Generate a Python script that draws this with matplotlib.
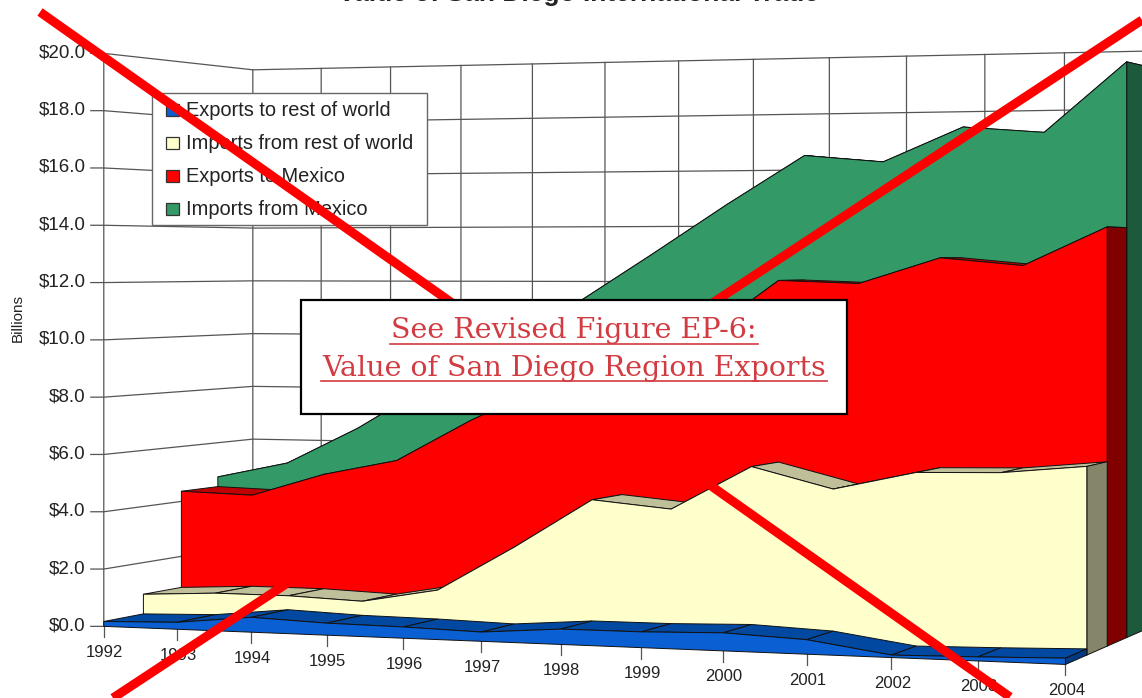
import numpy as np
import matplotlib
matplotlib.use("Agg")
import matplotlib.pyplot as plt
from matplotlib.patches import Polygon, Rectangle

plt.rcParams["font.family"] = ["Liberation Sans", "DejaVu Sans"]

# ==========================================
# DATA
# ==========================================
years = [1992, 1993, 1994, 1995, 1996, 1997, 1998, 1999, 2000, 2001, 2002, 2003, 2004]
exports_row = [0.17, 0.24, 0.51, 0.41, 0.38, 0.31, 0.51, 0.52, 0.59, 0.47, 0.08, 0.13, 0.20]
imports_row = [0.87, 1.00, 1.00, 0.90, 1.38, 2.94, 4.63, 4.38, 5.87, 5.18, 5.79, 5.84, 6.10]
exports_mex = [4.37, 4.29, 5.10, 5.65, 7.12, 8.38, 9.31, 10.09, 12.08, 11.98, 12.85, 12.59, 13.87]
imports_mex = [4.73, 5.30, 6.63, 8.23, 9.70, 11.22, 12.96, 14.74, 16.43, 16.18, 17.35, 17.13, 19.48]

series_names = ["Exports to rest of world", "Imports from rest of world",
                "Exports to Mexico", "Imports from Mexico"]
value_ticks = [0, 2, 4, 6, 8, 10, 12, 14, 16, 18, 20]

# front, top surface, right end
colors = [("#0A5FD2", "#0048A0", "#003A80"),
          ("#FFFFCC", "#BFBF99", "#85856A"),
          ("#FF0000", "#BF0000", "#800000"),
          ("#339966", "#1F5F40", "#1D5A3C")]

# ==========================================
# PERSPECTIVE (year, value, depth -> pixels)
# ==========================================
corners = [
    (1992, 0, 0, 103, 626), (1992, 20, 0, 103, 52),
    (1992, 0, 4, 252, 598), (1992, 20, 4, 252, 71),
    (2004, 0, 0, 1065, 665), (2004, 20, 0, 1065, 33),
    (2004, 0, 4, 1145, 629), (2004, 20, 4, 1145, 50),
    (1992, 0, 2, 183, 611), (1992, 20, 2, 183, 62),
    (2004, 0, 2, 1108, 646), (2004, 20, 2, 1108, 41),
]
A, b = [], []
for yr, v, d, u, w in corners:
    X = [yr - 1992, v, d, 1]
    A.append(X + [0, 0, 0, 0] + [-u * c for c in X[:3]])
    b.append(u)
    A.append([0, 0, 0, 0] + X + [-w * c for c in X[:3]])
    b.append(w)
p = np.linalg.lstsq(np.array(A, float), np.array(b, float), rcond=None)[0]
P = np.append(p, 1).reshape(3, 4)


def project(yr, v, d):
    h = P @ np.array([yr - 1992, v, d, 1.0])
    return h[0] / h[2], h[1] / h[2]


# ==========================================
# FIGURE
# ==========================================
fig = plt.figure(figsize=(11.42, 6.98), dpi=100)
ax = fig.add_axes([0, 0, 1, 1])
ax.set_xlim(0, 1142)
ax.set_ylim(698, 0)
ax.axis("off")

grid = dict(color="#555555", lw=0.9, zorder=1)

# walls
for v in value_ticks:
    a = project(1992, v, 0)
    b_ = project(1992, v, 4)
    c = project(2004, v, 4)
    ax.plot([a[0] - 13, a[0], b_[0], c[0]], [a[1], a[1], b_[1], c[1]], **grid)
    ax.text(a[0] - 18, a[1] - 0.5, f"${v:.1f}", ha="right", va="center", fontsize=13.5, color="#222222")
for yr in years:
    t = project(yr, 0, 4)
    u = project(yr, 20, 4)
    ax.plot([t[0], u[0]], [t[1], u[1]], **grid)
    f = project(yr, 0, 0)
    ax.plot([f[0], f[0]], [f[1], f[1] + 11], **grid)
    ax.text(f[0] + 1, f[1] + 26, str(yr), ha="center", va="center", fontsize=12, color="#222222")
t = project(1992, 0, 0)
u = project(1992, 20, 0)
ax.plot([t[0], u[0]], [t[1], u[1]], **grid)

# areas, back series first
all_series = [exports_row, imports_row, exports_mex, imports_mex]
z = 2
for d in [3, 2, 1, 0]:
    vals = all_series[d]
    front, top, end = colors[d]
    for i in range(len(years) - 1):
        quad = [project(years[i], vals[i], d), project(years[i + 1], vals[i + 1], d),
                project(years[i + 1], vals[i + 1], d + 1), project(years[i], vals[i], d + 1)]
        ax.add_patch(Polygon(quad, fc=top, ec="#111111", lw=0.7, zorder=z))
    cap = [project(years[-1], 0, d), project(years[-1], vals[-1], d),
           project(years[-1], vals[-1], d + 1), project(years[-1], 0, d + 1)]
    ax.add_patch(Polygon(cap, fc=end, ec="#111111", lw=0.7, zorder=z))
    face = [project(yr, v, d) for yr, v in zip(years, vals)]
    face += [project(years[-1], 0, d), project(years[0], 0, d)]
    ax.add_patch(Polygon(face, fc=front, ec="#111111", lw=0.7, zorder=z + 0.5))
    z += 1

# title, cut by the top of the image
ax.text(578, -6, "Value of San Diego International Trade", ha="center", va="center",
        fontsize=19, fontweight="bold", color="#222222")
ax.text(18, 318, "Billions", rotation=90, ha="center", va="center", fontsize=11, color="#222222")

# legend
ax.add_patch(Rectangle((152, 93), 275, 132, fc="white", ec="#666666", lw=1, zorder=8))
for i, name in enumerate(series_names):
    y = 109.5 + i * 33
    ax.add_patch(Rectangle((166, y - 6), 12.5, 12.5, fc=colors[i][0], ec="#333333", lw=0.9, zorder=9))
    ax.text(186, y + 1, name, ha="left", va="center", fontsize=14.4, color="#222222", zorder=9)

# crossed out
ax.plot([40, 1010], [12, 697], color="#FF0000", lw=6.5, solid_capstyle="butt", zorder=10)
ax.plot([1142, 113], [20, 698], color="#FF0000", lw=6.5, solid_capstyle="butt", zorder=10)

# revised figure note
ax.add_patch(Rectangle((301, 300), 546, 114, fc="white", ec="black", lw=1.6, zorder=11))
note_color = "#D23B41"
ax.text(574, 331, "See Revised Figure EP-6:", family="DejaVu Serif", ha="center", va="center",
        fontsize=20.5, color=note_color, zorder=12)
ax.text(574, 368, "Value of San Diego Region Exports", family="DejaVu Serif", ha="center", va="center",
        fontsize=20.5, color=note_color, zorder=12)
ax.plot([390, 758], [344, 344], color=note_color, lw=1.2, zorder=12)
ax.plot([321, 827], [381, 381], color=note_color, lw=1.2, zorder=12)

fig.savefig("out.png", dpi=100)
